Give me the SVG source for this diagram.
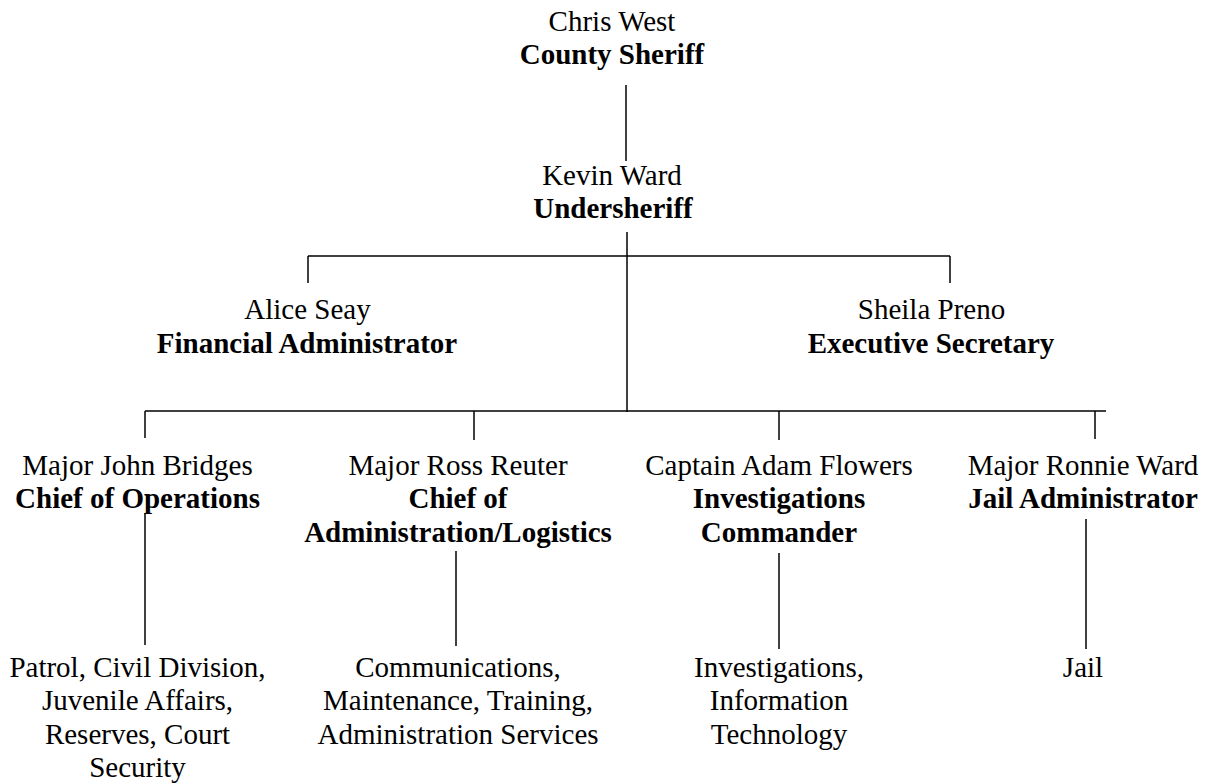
<svg xmlns="http://www.w3.org/2000/svg" width="1211" height="783" viewBox="0 0 1211 783">
<style>
text{font-family:"Liberation Serif","Times New Roman",serif;font-size:29px;fill:#000;text-anchor:middle}
.b{font-weight:bold}
.c line{stroke:#000;stroke-width:1.5;fill:none}
</style>
<rect width="1211" height="783" fill="#fff"/>
<g class="c" id="connectors">
<line x1="626" y1="85" x2="626" y2="161"/>
<line x1="627" y1="232" x2="627" y2="412"/>
<line x1="308" y1="256" x2="950" y2="256"/>
<line x1="308" y1="256" x2="308" y2="283"/>
<line x1="950" y1="256" x2="950" y2="283"/>
<line x1="145" y1="411" x2="1106" y2="411"/>
<line x1="145" y1="411" x2="145" y2="438"/>
<line x1="474" y1="411" x2="474" y2="440"/>
<line x1="779" y1="411" x2="779" y2="440"/>
<line x1="1095" y1="411" x2="1095" y2="439"/>
<line x1="145" y1="513" x2="145" y2="645"/>
<line x1="456" y1="551" x2="456" y2="646"/>
<line x1="779" y1="553" x2="779" y2="649"/>
<line x1="1086" y1="519" x2="1086" y2="649"/>
</g>
<g id="sheriff"><text x="612" y="30.5">Chris West</text><text class="b" x="612" y="64">County Sheriff</text></g>
<g id="undersheriff"><text x="612" y="185">Kevin Ward</text><text class="b" x="613" y="218">Undersheriff</text></g>
<g id="financial"><text x="307.5" y="319">Alice Seay</text><text class="b" x="307" y="352.5">Financial Administrator</text></g>
<g id="secretary"><text x="931.5" y="319">Sheila Preno</text><text class="b" x="931" y="352.5">Executive Secretary</text></g>
<g id="operations"><text x="137.5" y="475">Major John Bridges</text><text class="b" x="137.5" y="508">Chief of Operations</text></g>
<g id="administration"><text x="458" y="475">Major Ross Reuter</text><text class="b" x="458" y="508">Chief of</text><text class="b" x="458" y="542">Administration/Logistics</text></g>
<g id="investigations"><text x="779" y="475">Captain Adam Flowers</text><text class="b" x="779" y="508">Investigations</text><text class="b" x="779" y="542">Commander</text></g>
<g id="jailadmin"><text x="1083" y="475">Major Ronnie Ward</text><text class="b" x="1083" y="508">Jail Administrator</text></g>
<g id="ops-units"><text x="137.5" y="677">Patrol, Civil Division,</text><text x="137.5" y="710">Juvenile Affairs,</text><text x="137.5" y="743.5">Reserves, Court</text><text x="137.5" y="777">Security</text></g>
<g id="admin-units"><text x="458" y="677">Communications,</text><text x="458" y="710">Maintenance, Training,</text><text x="458" y="743.5">Administration Services</text></g>
<g id="inv-units"><text x="779" y="677">Investigations,</text><text x="779" y="710">Information</text><text x="779" y="743.5">Technology</text></g>
<g id="jail"><text x="1083" y="677">Jail</text></g>
</svg>
